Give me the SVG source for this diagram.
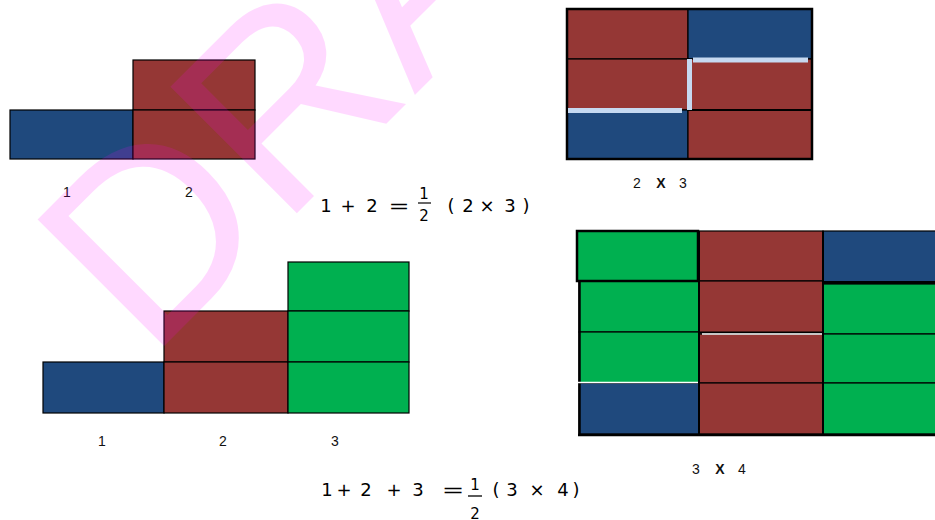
<svg xmlns="http://www.w3.org/2000/svg" width="935" height="520" viewBox="0 0 935 520">
<style>
.b{fill:#1F497D;stroke:#000;stroke-width:1.2}
.r{fill:#953735;stroke:#000;stroke-width:1.2}
.g{fill:#00B050;stroke:#000;stroke-width:1.2}
.lbl{font-family:"Liberation Sans",Arial,sans-serif;font-size:14px;fill:#111;text-anchor:middle}
.eq{font-family:"DejaVu Sans","Liberation Sans",sans-serif;font-size:18px;fill:#000;text-anchor:middle}
.fr{font-family:"DejaVu Sans","Liberation Sans",sans-serif;font-size:15px;fill:#000;text-anchor:middle}
.hl{stroke:#C6D9F1;stroke-width:5;fill:none}
.wl{stroke:#fff;stroke-width:1.5;fill:none}
.thick{fill:none;stroke:#000;stroke-width:2.5}
</style>
<rect width="935" height="520" fill="#fff"/>

<g id="staircase-2">
<rect class="b" x="10" y="110" width="123" height="49"/>
<rect class="r" x="133" y="60" width="122" height="50"/>
<rect class="r" x="133" y="110" width="122" height="49"/>
<text class="lbl" x="67" y="197">1</text>
<text class="lbl" x="189" y="197">2</text>
</g>

<g id="grid-2x3">
<rect class="r" x="567" y="9" width="121" height="50"/>
<rect class="b" x="688" y="9" width="124" height="50"/>
<rect class="r" x="567" y="59" width="121" height="51"/>
<rect class="r" x="688" y="59" width="124" height="51"/>
<rect class="b" x="567" y="110" width="121" height="49"/>
<rect class="r" x="688" y="110" width="124" height="49"/>
<line x1="688" y1="110" x2="812" y2="110" stroke="#000" stroke-width="2"/>
<rect class="thick" x="567" y="9" width="245" height="150" stroke-width="2"/>
<line class="hl" x1="568" y1="110.5" x2="682" y2="110.5" stroke-width="4.5"/>
<line class="hl" x1="689.5" y1="59" x2="689.5" y2="110"/>
<line class="hl" x1="693" y1="60" x2="808" y2="60" stroke-width="5.5"/>
<text class="lbl" x="637" y="188">2</text>
<text class="lbl" x="661" y="188" font-weight="bold">X</text>
<text class="lbl" x="683" y="188">3</text>
</g>

<g id="equation-1">
<text class="eq" x="326" y="212">1</text>
<text class="eq" x="348" y="212">+</text>
<text class="eq" x="372" y="212">2</text>
<text class="eq" x="399" y="212" transform="translate(399 0) scale(1.4 1) translate(-399 0)">=</text>
<text class="fr" x="424" y="199">1</text>
<line x1="418" y1="203" x2="431" y2="203" stroke="#000" stroke-width="1.2"/>
<text class="fr" x="424" y="221">2</text>
<text class="eq" x="451" y="212">(</text>
<text class="eq" x="468" y="212">2</text>
<text class="eq" x="487" y="212">×</text>
<text class="eq" x="510" y="212">3</text>
<text class="eq" x="526" y="212">)</text>
</g>

<g id="staircase-3">
<rect class="b" x="43" y="362" width="121" height="51"/>
<rect class="r" x="164" y="311" width="124" height="51"/>
<rect class="r" x="164" y="362" width="124" height="51"/>
<rect class="g" x="288" y="262" width="121" height="49"/>
<rect class="g" x="288" y="311" width="121" height="51"/>
<rect class="g" x="288" y="362" width="121" height="51"/>
<text class="lbl" x="102" y="446">1</text>
<text class="lbl" x="223" y="446">2</text>
<text class="lbl" x="335" y="446">3</text>
</g>

<g id="grid-3x4">
<rect class="g" x="577" y="231" width="121" height="50"/>
<rect class="r" x="699" y="231" width="124" height="50"/>
<rect class="b" x="823" y="231" width="114" height="51"/>
<rect class="g" x="579" y="281" width="120" height="51"/>
<rect class="r" x="699" y="281" width="124" height="52"/>
<rect class="g" x="823" y="284" width="114" height="50"/>
<rect class="g" x="579" y="332" width="120" height="51"/>
<rect class="r" x="699" y="334" width="124" height="49"/>
<rect class="g" x="823" y="334" width="114" height="49"/>
<rect class="b" x="579" y="383" width="120" height="51"/>
<rect class="r" x="699" y="383" width="124" height="51"/>
<rect class="g" x="823" y="383" width="114" height="51"/>
<rect class="thick" x="577" y="231" width="121" height="50"/>
<line x1="823" y1="282.5" x2="935" y2="282.5" stroke="#000" stroke-width="3"/>
<line x1="699" y1="231" x2="699" y2="435" stroke="#000" stroke-width="2"/>
<line x1="823" y1="231" x2="823" y2="435" stroke="#000" stroke-width="2"/>
<line x1="579.5" y1="281" x2="579.5" y2="436" stroke="#000" stroke-width="2.5"/>
<line x1="578" y1="435" x2="935" y2="435" stroke="#000" stroke-width="2.5"/>
<line x1="699" y1="332.5" x2="823" y2="332.5" stroke="#000" stroke-width="2"/>
<line class="wl" x1="702" y1="334" x2="822" y2="334"/>
<line class="wl" x1="578" y1="382.5" x2="698" y2="382.5"/>
<text class="lbl" x="696" y="474">3</text>
<text class="lbl" x="720" y="474" font-weight="bold">X</text>
<text class="lbl" x="742" y="474">4</text>
</g>

<g id="equation-2">
<text class="eq" x="327" y="496">1</text>
<text class="eq" x="344" y="496">+</text>
<text class="eq" x="366" y="496">2</text>
<text class="eq" x="394" y="496">+</text>
<text class="eq" x="418" y="496">3</text>
<text class="eq" x="453" y="496" transform="translate(453 0) scale(1.5 1) translate(-453 0)">=</text>
<text class="fr" x="475" y="490">1</text>
<line x1="468" y1="496" x2="482" y2="496" stroke="#000" stroke-width="1.3"/>
<text class="fr" x="475" y="519">2</text>
<text class="eq" x="496" y="496">(</text>
<text class="eq" x="512" y="496">3</text>
<text class="eq" x="537" y="496">×</text>
<text class="eq" x="563" y="496">4</text>
<text class="eq" x="576" y="496">)</text>
</g>

<g id="watermark">
<text x="149" y="361" transform="rotate(-45 149 361)" font-family="Liberation Sans, Arial, sans-serif" font-size="260" fill="#FF00FF" fill-opacity="0.15">DRAFT</text>
</g>
</svg>
